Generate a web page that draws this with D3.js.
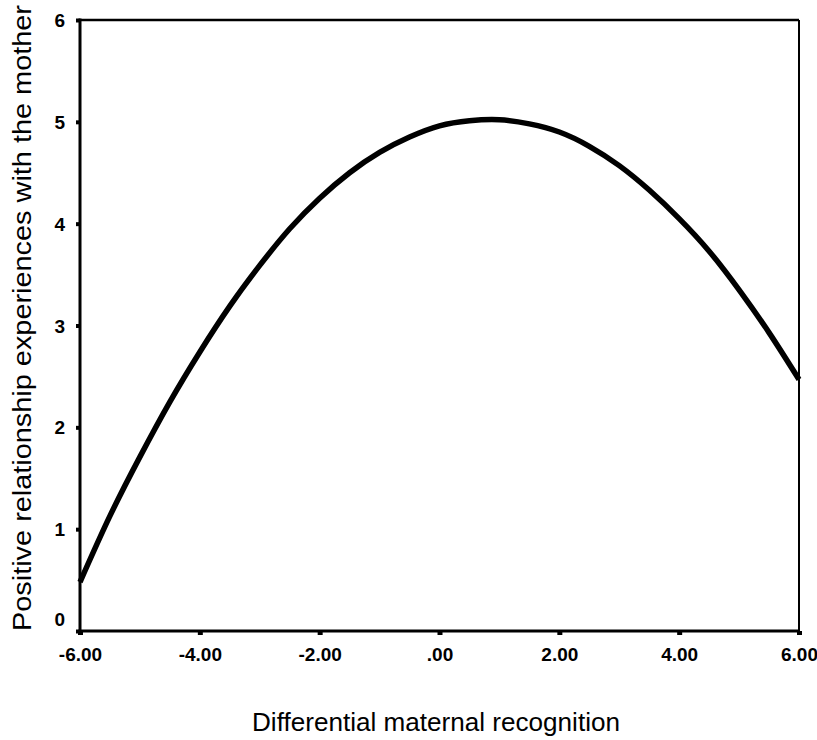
<!DOCTYPE html>
<html>
<head>
<meta charset="utf-8">
<script src="https://cdn.jsdelivr.net/npm/d3@7"></script>
<style>
  html, body { margin: 0; padding: 0; background: #fff; }
  svg { display: block; }
  text { font-family: "Liberation Sans", Arial, Helvetica, sans-serif; fill: #000; }
</style>
</head>
<body>
<svg id="chart" width="817" height="740"></svg>
<script>
// Fitted curve: differential maternal recognition vs. positive relationship experiences
const recognition = [-6, -5.5, -5, -4.5, -4, -3.5, -3, -2.5, -2, -1.5, -1, -0.5,
                     0, 0.5, 1, 1.5, 2, 2.5, 3, 3.5, 4, 4.5, 5, 5.5, 6];
const experiences = [0.48, 1.13, 1.71, 2.25, 2.74, 3.19, 3.59, 3.95, 4.25, 4.50, 4.70, 4.85,
                     4.96, 5.01, 5.02, 4.98, 4.90, 4.76, 4.57, 4.33, 4.05, 3.73, 3.35, 2.93, 2.47];
const xTicks = [-6, -4, -2, 0, 2, 4, 6];
const xTickLabels = ["-6.00", "-4.00", "-2.00", ".00", "2.00", "4.00", "6.00"];
const yTicks = [0, 1, 2, 3, 4, 5, 6];
const xTitle = "Differential maternal recognition";
const yTitle = "Positive relationship experiences with the mother";

const svg = d3.select("#chart");
const plotLeft = 80, plotRight = 799, plotTop = 20, plotBottom = 631;

const x = d3.scaleLinear().domain([-6, 6]).range([plotLeft, plotRight]);
const y = d3.scaleLinear().domain([0, 6]).range([plotBottom, plotTop]);

// Frame around the plotting region
svg.append("line").attr("x1", plotLeft).attr("x2", plotRight).attr("y1", plotTop).attr("y2", plotTop)
  .attr("stroke", "#000").attr("stroke-width", 2.5);
svg.append("line").attr("x1", plotRight).attr("x2", plotRight).attr("y1", plotTop).attr("y2", plotBottom)
  .attr("stroke", "#000").attr("stroke-width", 2);

// Bottom axis
const xAxis = d3.axisBottom(x).tickValues(xTicks)
  .tickFormat((d, i) => xTickLabels[i]).tickSizeInner(4).tickSizeOuter(0).tickPadding(13);
const gx = svg.append("g").attr("transform", `translate(0,${plotBottom})`).call(xAxis);
gx.select(".domain").attr("stroke", "#000").attr("stroke-width", 3)
  .attr("d", `M${plotLeft - 1.5},0H${plotRight + 1}`);
gx.selectAll(".tick line").attr("stroke", "#000").attr("stroke-width", 5);
gx.selectAll(".tick text").attr("font-size", 19).attr("font-weight", "bold")
  .attr("font-family", "Liberation Sans, Arial, sans-serif");

// Left axis
const yAxis = d3.axisLeft(y).tickValues(yTicks).tickFormat(d3.format("d"))
  .tickSizeInner(4).tickSizeOuter(0).tickPadding(11);
const gy = svg.append("g").attr("transform", `translate(${plotLeft},0)`).call(yAxis);
gy.select(".domain").attr("stroke", "#000").attr("stroke-width", 3)
  .attr("d", `M0,${plotTop - 1.5}V${plotBottom + 1.5}`);
gy.selectAll(".tick line").attr("stroke", "#000").attr("stroke-width", 4);
gy.selectAll(".tick text").attr("font-size", 19).attr("font-weight", "bold")
  .attr("font-family", "Liberation Sans, Arial, sans-serif")
  .attr("dy", d => d === 0 ? "-0.3em" : "0.35em");

// Axis titles
svg.append("text")
  .attr("x", (252 + 620) / 2).attr("y", 731)
  .attr("text-anchor", "middle").attr("font-size", 25)
  .attr("textLength", 368).attr("lengthAdjust", "spacingAndGlyphs")
  .text(xTitle);

svg.append("text")
  .attr("transform", "translate(31,318) rotate(-90)")
  .attr("text-anchor", "middle").attr("font-size", 25)
  .attr("textLength", 626).attr("lengthAdjust", "spacingAndGlyphs")
  .text(yTitle);

// Curve
const pts = recognition.map((r, i) => [r, experiences[i]]);
svg.append("path")
  .datum(pts)
  .attr("d", d3.line().x(d => x(d[0])).y(d => y(d[1])).curve(d3.curveNatural))
  .attr("fill", "none").attr("stroke", "#000").attr("stroke-width", 5.5)
  .attr("stroke-linejoin", "round");
</script>
</body>
</html>
